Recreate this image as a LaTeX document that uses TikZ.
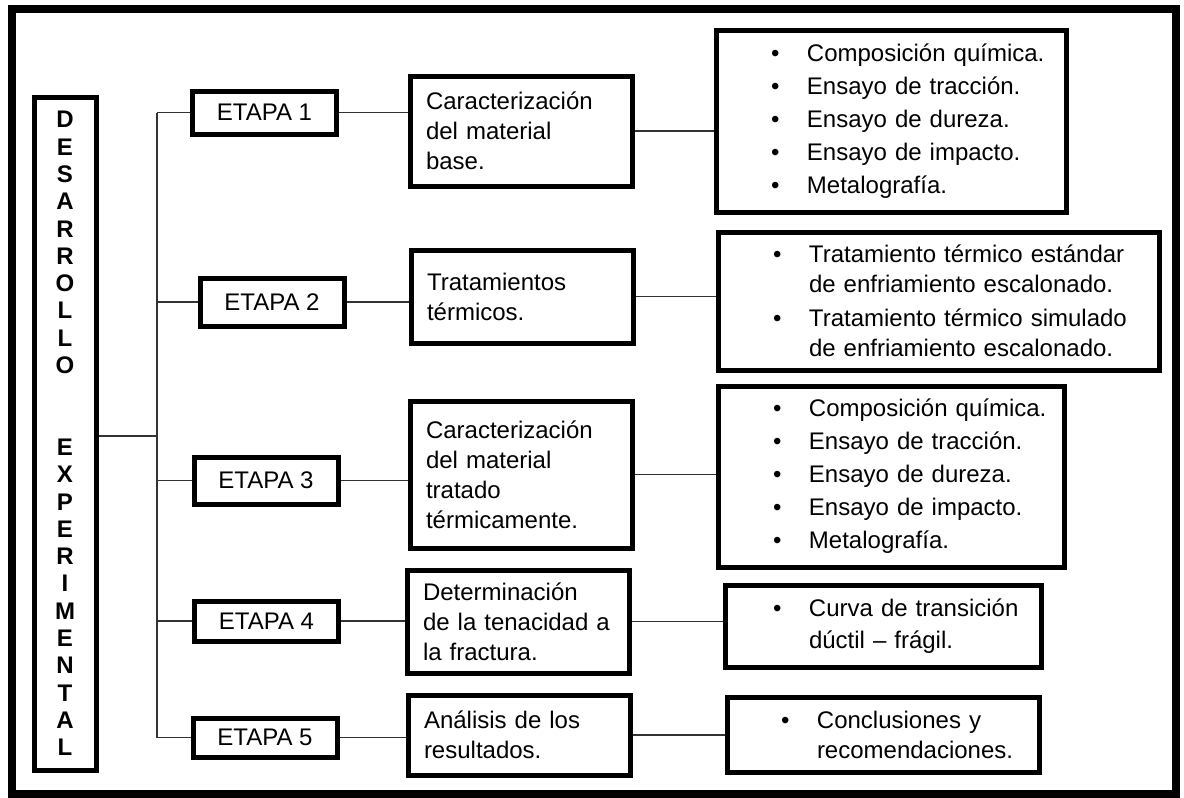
\documentclass[tikz,border=0pt]{standalone}
\usepackage{fontspec}
\setmainfont{Liberation Sans}
\usetikzlibrary{positioning}
\tikzset{
  box/.style  = {rectangle, draw, line width=2.5pt, align=left,
                 inner ysep=0pt, font=\fontsize{12}{15}\selectfont},
  ebox/.style = {box, align=center, minimum width=72pt, inner xsep=0pt},
  mbox/.style = {box, text width=95pt, inner xsep=8pt},
  rbox/.style = {box, inner xsep=0pt},
  link/.style = {line width=0.75pt, black!80}
}
\newcommand{\itm}[1][27.5pt]{\hspace*{#1}\makebox[18pt][l]{\textbullet}}

\begin{document}
\begin{tikzpicture}[x=0.5pt, y=-0.5pt]
  \useasboundingbox (0,0) rectangle (1184,798);
  \draw[line width=3.8pt] (12,9) rectangle (1176,794);

  % vertical title
  \node[box, align=center, inner xsep=0pt, minimum width=31pt, minimum height=336.5pt,
        font=\bfseries\fontsize{12}{13.65}\selectfont] (dbox) at (65,433.5)
    {D\\E\\S\\A\\R\\R\\O\\L\\L\\O\\[27.3pt]E\\X\\P\\E\\R\\I\\M\\E\\N\\T\\A\\L};

  % etapas
  \node[ebox, minimum height=21.5pt] (e1) at (264.5,112.5) {ETAPA 1};
  \node[ebox, minimum height=24pt]   (e2) at (272,302)     {ETAPA 2};
  \node[ebox, minimum height=23.5pt] (e3) at (266,480.5)   {ETAPA 3};
  \node[ebox, minimum height=20pt]   (e4) at (266.5,621)   {ETAPA 4};
  \node[ebox, minimum height=19.5pt] (e5) at (265,737.5)   {ETAPA 5};

  % descripcion de cada etapa
  \node[mbox, minimum height=55pt]   (m1) at (521,131)   {Caracterización\\del material\\base.};
  \node[mbox, minimum height=46.5pt] (m2) at (522,296.5) {Tratamientos\\térmicos.};
  \node[mbox, minimum height=73.5pt] (m3) at (521,474.5) {Caracterización\\del material\\tratado\\térmicamente.};
  \node[mbox, minimum height=51.5pt] (m4) at (518,621.5) {Determinación\\de la tenacidad a\\la fractura.};
  \node[mbox, minimum height=40pt]   (m5) at (519,735)   {Análisis de los\\resultados.};

  % actividades
  \node[rbox, text width=175pt, minimum height=91pt] (r1) at (891,121)
    {\itm Composición química.\\[1.5pt]
     \itm Ensayo de tracción.\\[1.5pt]
     \itm Ensayo de dureza.\\[1.5pt]
     \itm Ensayo de impacto.\\[1.5pt]
     \itm Metalografía.};
  \node[rbox, text width=220.5pt, minimum height=69pt] (r2) at (938.5,301)
    {\itm Tratamiento térmico estándar\\
     \hspace*{45.5pt}de enfriamiento escalonado.\\[2pt]
     \itm Tratamiento térmico simulado\\
     \hspace*{45.5pt}de enfriamiento escalonado.};
  \node[rbox, text width=173pt, minimum height=90.5pt] (r3) at (891,476.5)
    {\itm Composición química.\\[1.5pt]
     \itm Ensayo de tracción.\\[1.5pt]
     \itm Ensayo de dureza.\\[1.5pt]
     \itm Ensayo de impacto.\\[1.5pt]
     \itm Metalografía.};
  \node[rbox, text width=158pt, minimum height=41pt] (r4) at (883,626)
    {\itm[24pt]Curva de transición\\[1pt]
     \hspace*{42pt}dúctil -- frágil.};
  \node[rbox, text width=156pt, minimum height=37.5pt] (r5) at (883,734.5)
    {\itm[27pt]Conclusiones y\\
     \hspace*{45pt}recomendaciones.};

  % conectores
  \coordinate (trunk) at (157,436);
  \draw[link] (dbox.east |- trunk) -- (trunk);
  \draw[link] (e1.west -| trunk) -- (e5.west -| trunk);
  \draw[link] (e1.west -| trunk) -- (e1.west);
  \draw[link] (e2.west -| trunk) -- (e2.west);
  \draw[link] (e3.west -| trunk) -- (e3.west);
  \draw[link] (e4.west -| trunk) -- (e4.west);
  \draw[link] (e5.west -| trunk) -- (e5.west);
  \draw[link] (e1.east) -- (e1.east -| m1.west);
  \draw[link] (e2.east) -- (e2.east -| m2.west);
  \draw[link] (e3.east) -- (e3.east -| m3.west);
  \draw[link] (e4.east) -- (e4.east -| m4.west);
  \draw[link] (e5.east) -- (e5.east -| m5.west);
  \draw[link] (m1.east) -- (m1.east -| r1.west);
  \draw[link] (m2.east) -- (m2.east -| r2.west);
  \draw[link] (m3.east) -- (m3.east -| r3.west);
  \draw[link] (m4.east) -- (m4.east -| r4.west);
  \draw[link] (m5.east) -- (m5.east -| r5.west);
\end{tikzpicture}
\end{document}
